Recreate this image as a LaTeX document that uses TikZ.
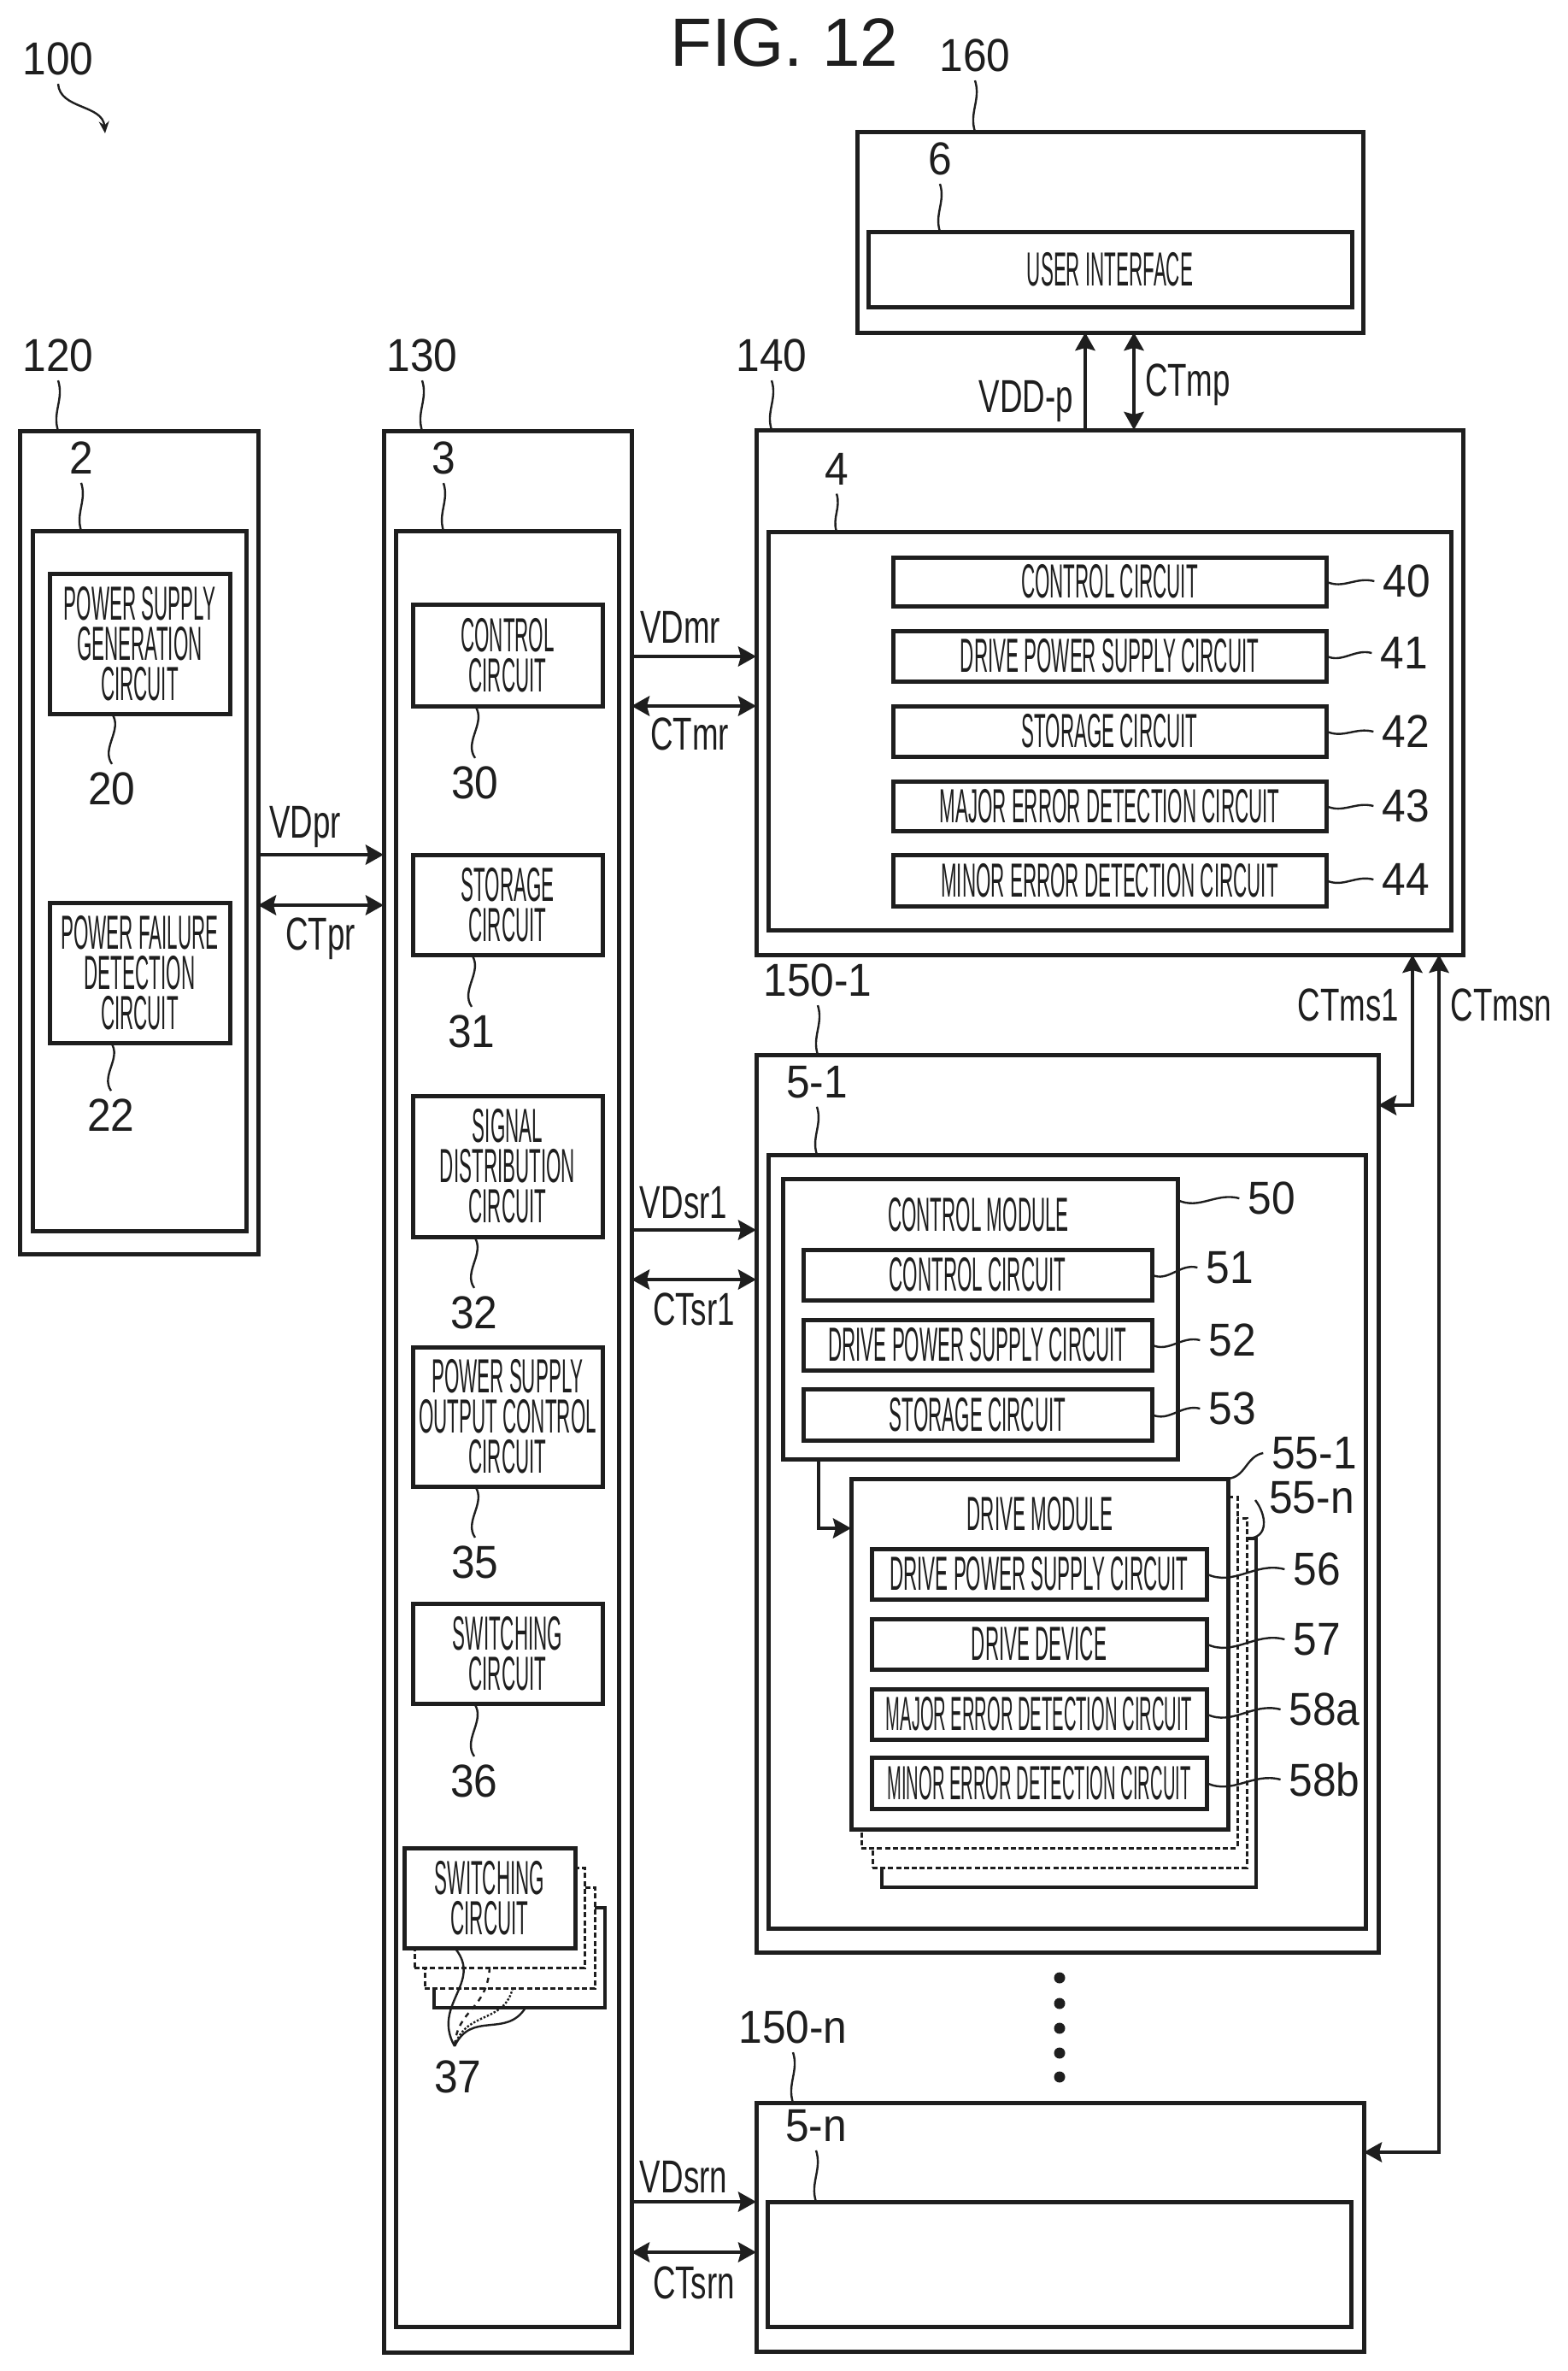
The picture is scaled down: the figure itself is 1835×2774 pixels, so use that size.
\documentclass[tikz,border=0pt]{standalone}
\usepackage{fontspec}
\usetikzlibrary{arrows.meta}
\setmainfont{Liberation Sans}
\newfontfamily\condA[FakeStretch=0.40]{Liberation Sans}
\newfontfamily\condB[FakeStretch=0.36]{Liberation Sans}
\newfontfamily\condL[FakeStretch=0.68]{Liberation Sans}
\newfontfamily\condN[FakeStretch=0.92]{Liberation Sans}
\definecolor{ink}{HTML}{1E1E1E}
\newcommand{\boxf}{\fontsize{28}{23.5}\condA}
\newcommand{\boxn}{\fontsize{28}{23.5}\condB}
\newcommand{\labf}{\fontsize{27}{30}\condL}
\newcommand{\numf}{\fontsize{27}{30}\condN}
\tikzset{
  bxst/.style={draw=ink,line width=2.5pt,rectangle,inner sep=0pt,outer sep=0pt,align=center,text=ink,font=\boxf},
  stk/.style={fill=white,line width=1.5pt,dash pattern=on 3pt off 1.6pt},
  stkl/.style={fill=white,line width=1.6pt},
  txtb/.style={inner sep=0pt,text=ink,font=\boxf},
  num/.style={inner sep=0pt,outer sep=5pt,text=ink,font=\numf},
  lab/.style={inner sep=0pt,anchor=base,text=ink,font=\labf},
  conn/.style={draw=ink,line width=2.4pt},
  lead/.style={draw=ink,line width=1.2pt},
  dotst/.style={circle,fill=ink,inner sep=0pt,minimum size=6.5pt},
  >={Stealth[length=10.5pt,width=11.5pt,inset=1.5pt]}
}
\newcommand{\bx}[7][]{\node[bxst,#1,minimum width={(#5-#3)*0.5pt},minimum height={(#6-#4)*0.5pt}] (#2) at ({(#3+#5)/2},{(#4+#6)/2}) {#7};}
\newcommand{\lbl}[3]{\node[num] (#1) at (#2) {#3};}
% leader from a label above down to a box top
\newcommand{\ldn}[2]{\draw[lead] (#1.south) to[out=-72,in=108] (#2.north -| #1.south);}
% leader from a box bottom down to a label below
\newcommand{\lup}[2]{\draw[lead] (#1.south -| #2.north) to[out=-55,in=125] (#2.north);}
% horizontal leader from a box edge to a label on the right
\newcommand{\lrt}[2]{\draw[lead] (#1.east) to[out=-25,in=165] (#2.west);}
\begin{document}
\begin{tikzpicture}[x=0.5pt,y=-0.5pt]
\useasboundingbox[fill=white] (0,0) rectangle (1835,2774);

\node[inner sep=0pt,text=ink,font=\fontsize{40}{44}\selectfont] (fig) at (918,50) {FIG. 12};

% --- 160
\bx{b160}{1003}{154}{1595}{389}{}
\bx{b6}{1016}{271}{1582}{359}{USER INTERFACE}
% --- 120
\bx{b120}{23}{504}{302}{1467}{}
\bx{b2}{38}{621}{288}{1440}{}
\bx{b20}{58}{671}{269}{835}{POWER SUPPLY\\GENERATION\\CIRCUIT}
\bx{b22}{58}{1056}{269}{1220}{POWER FAILURE\\DETECTION\\CIRCUIT}
% --- 130
\bx{b130}{449}{504}{739}{2752}{}
\bx{b3}{463}{621}{724}{2722}{}
\bx{b30}{483}{707}{705}{826}{CONTROL\\CIRCUIT}
\bx{b31}{483}{1000}{705}{1117}{STORAGE\\CIRCUIT}
\bx{b32}{483}{1282}{705}{1447}{SIGNAL\\DISTRIBUTION\\CIRCUIT}
\bx{b35}{483}{1576}{705}{1739}{POWER SUPPLY\\OUTPUT CONTROL\\CIRCUIT}
\bx{b36}{483}{1876}{705}{1993}{SWITCHING\\CIRCUIT}
\bx[stkl]{s37c}{508}{2232}{708}{2349}{}
\bx[stk]{s37b}{497}{2208}{696}{2326}{}
\bx[stk]{s37a}{485}{2185}{684}{2302}{}
\bx[fill=white]{b37}{473}{2162}{673}{2279}{SWITCHING\\CIRCUIT}
% --- 140
\bx{b140}{885}{503}{1712}{1117}{}
\bx{b4}{899}{622}{1698}{1088}{}
\bx{b40}{1045}{652}{1552}{709}{CONTROL CIRCUIT}
\bx{b41}{1045}{738}{1552}{797}{DRIVE POWER SUPPLY CIRCUIT}
\bx{b42}{1045}{826}{1552}{885}{STORAGE CIRCUIT}
\bx{b43}{1045}{914}{1552}{972}{MAJOR ERROR DETECTION CIRCUIT}
\bx{b44}{1045}{1000}{1552}{1060}{MINOR ERROR DETECTION CIRCUIT}
% --- 150-1
\bx{b1501}{885}{1234}{1613}{2284}{}
\bx{b51}{899}{1351}{1598}{2256}{}
\bx{m50}{916}{1379}{1378}{1707}{}
\node[txtb] (t50) at (1145,1421) {CONTROL MODULE};
\bx{c51}{940}{1462}{1348}{1521}{CONTROL CIRCUIT}
\bx{c52}{940}{1544}{1348}{1603}{DRIVE POWER SUPPLY CIRCUIT}
\bx{c53}{940}{1625}{1348}{1685}{STORAGE CIRCUIT}
\bx[stkl]{s4}{1032}{1800}{1470}{2208}{}
\bx[stk]{s3}{1021}{1776}{1459}{2185}{}
\bx[stk]{s2}{1008}{1751}{1448}{2162}{}
\bx[fill=white]{dm}{996}{1730}{1437}{2140}{}
\node[txtb] (t55) at (1217,1771) {DRIVE MODULE};
\bx{c56}{1020}{1812}{1412}{1871}{DRIVE POWER SUPPLY CIRCUIT}
\bx{c57}{1020}{1894}{1412}{1953}{DRIVE DEVICE}
\bx[font=\boxn]{c58a}{1020}{1976}{1412}{2035}{MAJOR ERROR DETECTION CIRCUIT}
\bx[font=\boxn]{c58b}{1020}{2056}{1412}{2116}{MINOR ERROR DETECTION CIRCUIT}
% --- 150-n
\bx{b150n}{885}{2460}{1596}{2751}{}
\bx{b5n}{898}{2576}{1581}{2722}{}

% --- numerals
\lbl{l100}{68,69}{100}
\lbl{l160}{1141,65}{160}
\lbl{l6}{1100,186}{6}
\lbl{l120}{68,416}{120}
\lbl{l130}{494,416}{130}
\lbl{l140}{903,416}{140}
\lbl{l2}{95,536}{2}
\lbl{l3}{519,536}{3}
\lbl{l4}{979,549}{4}
\lbl{l20}{131,923}{20}
\lbl{l22}{130,1305}{22}
\lbl{l30}{556,916}{30}
\lbl{l31}{552,1207}{31}
\lbl{l32}{555,1536}{32}
\lbl{l35}{556,1828}{35}
\lbl{l36}{555,2084}{36}
\lbl{l37}{536,2430}{37}
\lbl{l40}{1646,680}{40}
\lbl{l41}{1643,764}{41}
\lbl{l42}{1645,856}{42}
\lbl{l43}{1645,943}{43}
\lbl{l44}{1645,1029}{44}
\lbl{l1501}{957,1147}{150-1}
\lbl{l51a}{956,1266}{5-1}
\lbl{l50}{1488,1402}{50}
\lbl{l51}{1439,1483}{51}
\lbl{l52}{1442,1568}{52}
\lbl{l53}{1442,1648}{53}
\lbl{l551}{1538,1700}{55-1}
\lbl{l55n}{1535,1752}{55-n}
\lbl{l56}{1541,1836}{56}
\lbl{l57}{1541,1918}{57}
\lbl{l58a}{1550,2000}{58a}
\lbl{l58b}{1550,2082}{58b}
\lbl{l150n}{928,2372}{150-n}
\lbl{l5n}{955,2487}{5-n}

% --- signal labels
\node[lab] (tVDDp) at (1201,482) {VDD-p};
\node[lab] (tCTmp) at (1390,463) {CTmp};
\node[lab] (tVDpr) at (357,980) {VDpr};
\node[lab] (tCTpr) at (375,1111) {CTpr};
\node[lab] (tVDmr) at (796,752) {VDmr};
\node[lab] (tCTmr) at (807,877) {CTmr};
\node[lab] (tVDsr1) at (800,1425) {VDsr1};
\node[lab] (tCTsr1) at (812,1550) {CTsr1};
\node[lab] (tVDsrn) at (800,2565) {VDsrn};
\node[lab] (tCTsrn) at (812,2689) {CTsrn};
\node[lab] (tCTms1) at (1578,1194) {CTms1};
\node[lab] (tCTmsn) at (1757,1194) {CTmsn};

% --- connectors
\draw[conn,->] (b140.north -| 1270,0) -- (b160.south -| 1270,0);
\draw[conn,<->] (b140.north -| 1327,0) -- (b160.south -| 1327,0);
\draw[conn,->] (b120.east |- 0,1000) -- (b130.west |- 0,1000);
\draw[conn,<->] (b120.east |- 0,1059) -- (b130.west |- 0,1059);
\draw[conn,->] (b130.east |- 0,768) -- (b140.west |- 0,768);
\draw[conn,<->] (b130.east |- 0,826) -- (b140.west |- 0,826);
\draw[conn,->] (b130.east |- 0,1439) -- (b1501.west |- 0,1439);
\draw[conn,<->] (b130.east |- 0,1497) -- (b1501.west |- 0,1497);
\draw[conn,->] (b130.east |- 0,2576) -- (b150n.west |- 0,2576);
\draw[conn,<->] (b130.east |- 0,2635) -- (b150n.west |- 0,2635);
\draw[conn,<->] (b140.south -| 1653,0) |- (b1501.east |- 0,1293);
\draw[conn,<->] (b140.south -| 1684,0) |- (b150n.east |- 0,2518);
\draw[conn,->] (m50.south -| 958,0) |- (dm.west |- 0,1788);

% --- leaders
\coordinate (c100) at (123,156);
\draw[lead,-{Stealth[length=7pt,width=6pt]}] (l100.south) .. controls (70,128) and (120,122) .. (c100);
\ldn{l160}{b160}
\ldn{l6}{b6}
\ldn{l120}{b120}
\ldn{l130}{b130}
\ldn{l140}{b140}
\ldn{l2}{b2}
\ldn{l3}{b3}
\ldn{l4}{b4}
\ldn{l1501}{b1501}
\ldn{l51a}{b51}
\ldn{l150n}{b150n}
\ldn{l5n}{b5n}
\lup{b20}{l20}
\lup{b22}{l22}
\lup{b30}{l30}
\lup{b31}{l31}
\lup{b32}{l32}
\lup{b35}{l35}
\lup{b36}{l36}
\lrt{b40}{l40}
\lrt{b41}{l41}
\lrt{b42}{l42}
\lrt{b43}{l43}
\lrt{b44}{l44}
\draw[lead] (m50.east |- 0,1404) to[out=-25,in=165] (l50.west);
\lrt{c51}{l51}
\lrt{c52}{l52}
\lrt{c53}{l53}
\lrt{c56}{l56}
\lrt{c57}{l57}
\lrt{c58a}{l58a}
\lrt{c58b}{l58b}
\draw[lead] (dm.north east) .. controls (1458,1728) and (1458,1704) .. (l551.west);
\coordinate (c55n) at (1469,1755);
\coordinate (c55s) at (1459,1800);
\draw[lead] (c55n) .. controls (1482,1772) and (1486,1800) .. (c55s);
% fan of leaders of 37
\coordinate (c37) at (532,2394);
\coordinate (c37a) at (533,2280);
\coordinate (c37b) at (573,2302);
\coordinate (c37c) at (600,2326);
\coordinate (c37d) at (615,2349);
\draw[lead] (c37a) .. controls (565,2320) and (505,2345) .. (c37);
\draw[lead,dashed] (c37b) .. controls (570,2352) and (535,2350) .. (c37);
\draw[lead,densely dotted] (c37c) .. controls (590,2368) and (545,2352) .. (c37);
\draw[lead] (c37d) .. controls (592,2385) and (552,2352) .. (c37);

% --- ellipsis dots
\node[dotst] (d1) at (1240,2314) {};
\node[dotst] (d2) at (1240,2344) {};
\node[dotst] (d3) at (1240,2373) {};
\node[dotst] (d4) at (1240,2402) {};
\node[dotst] (d5) at (1240,2430) {};
\end{tikzpicture}
\end{document}
